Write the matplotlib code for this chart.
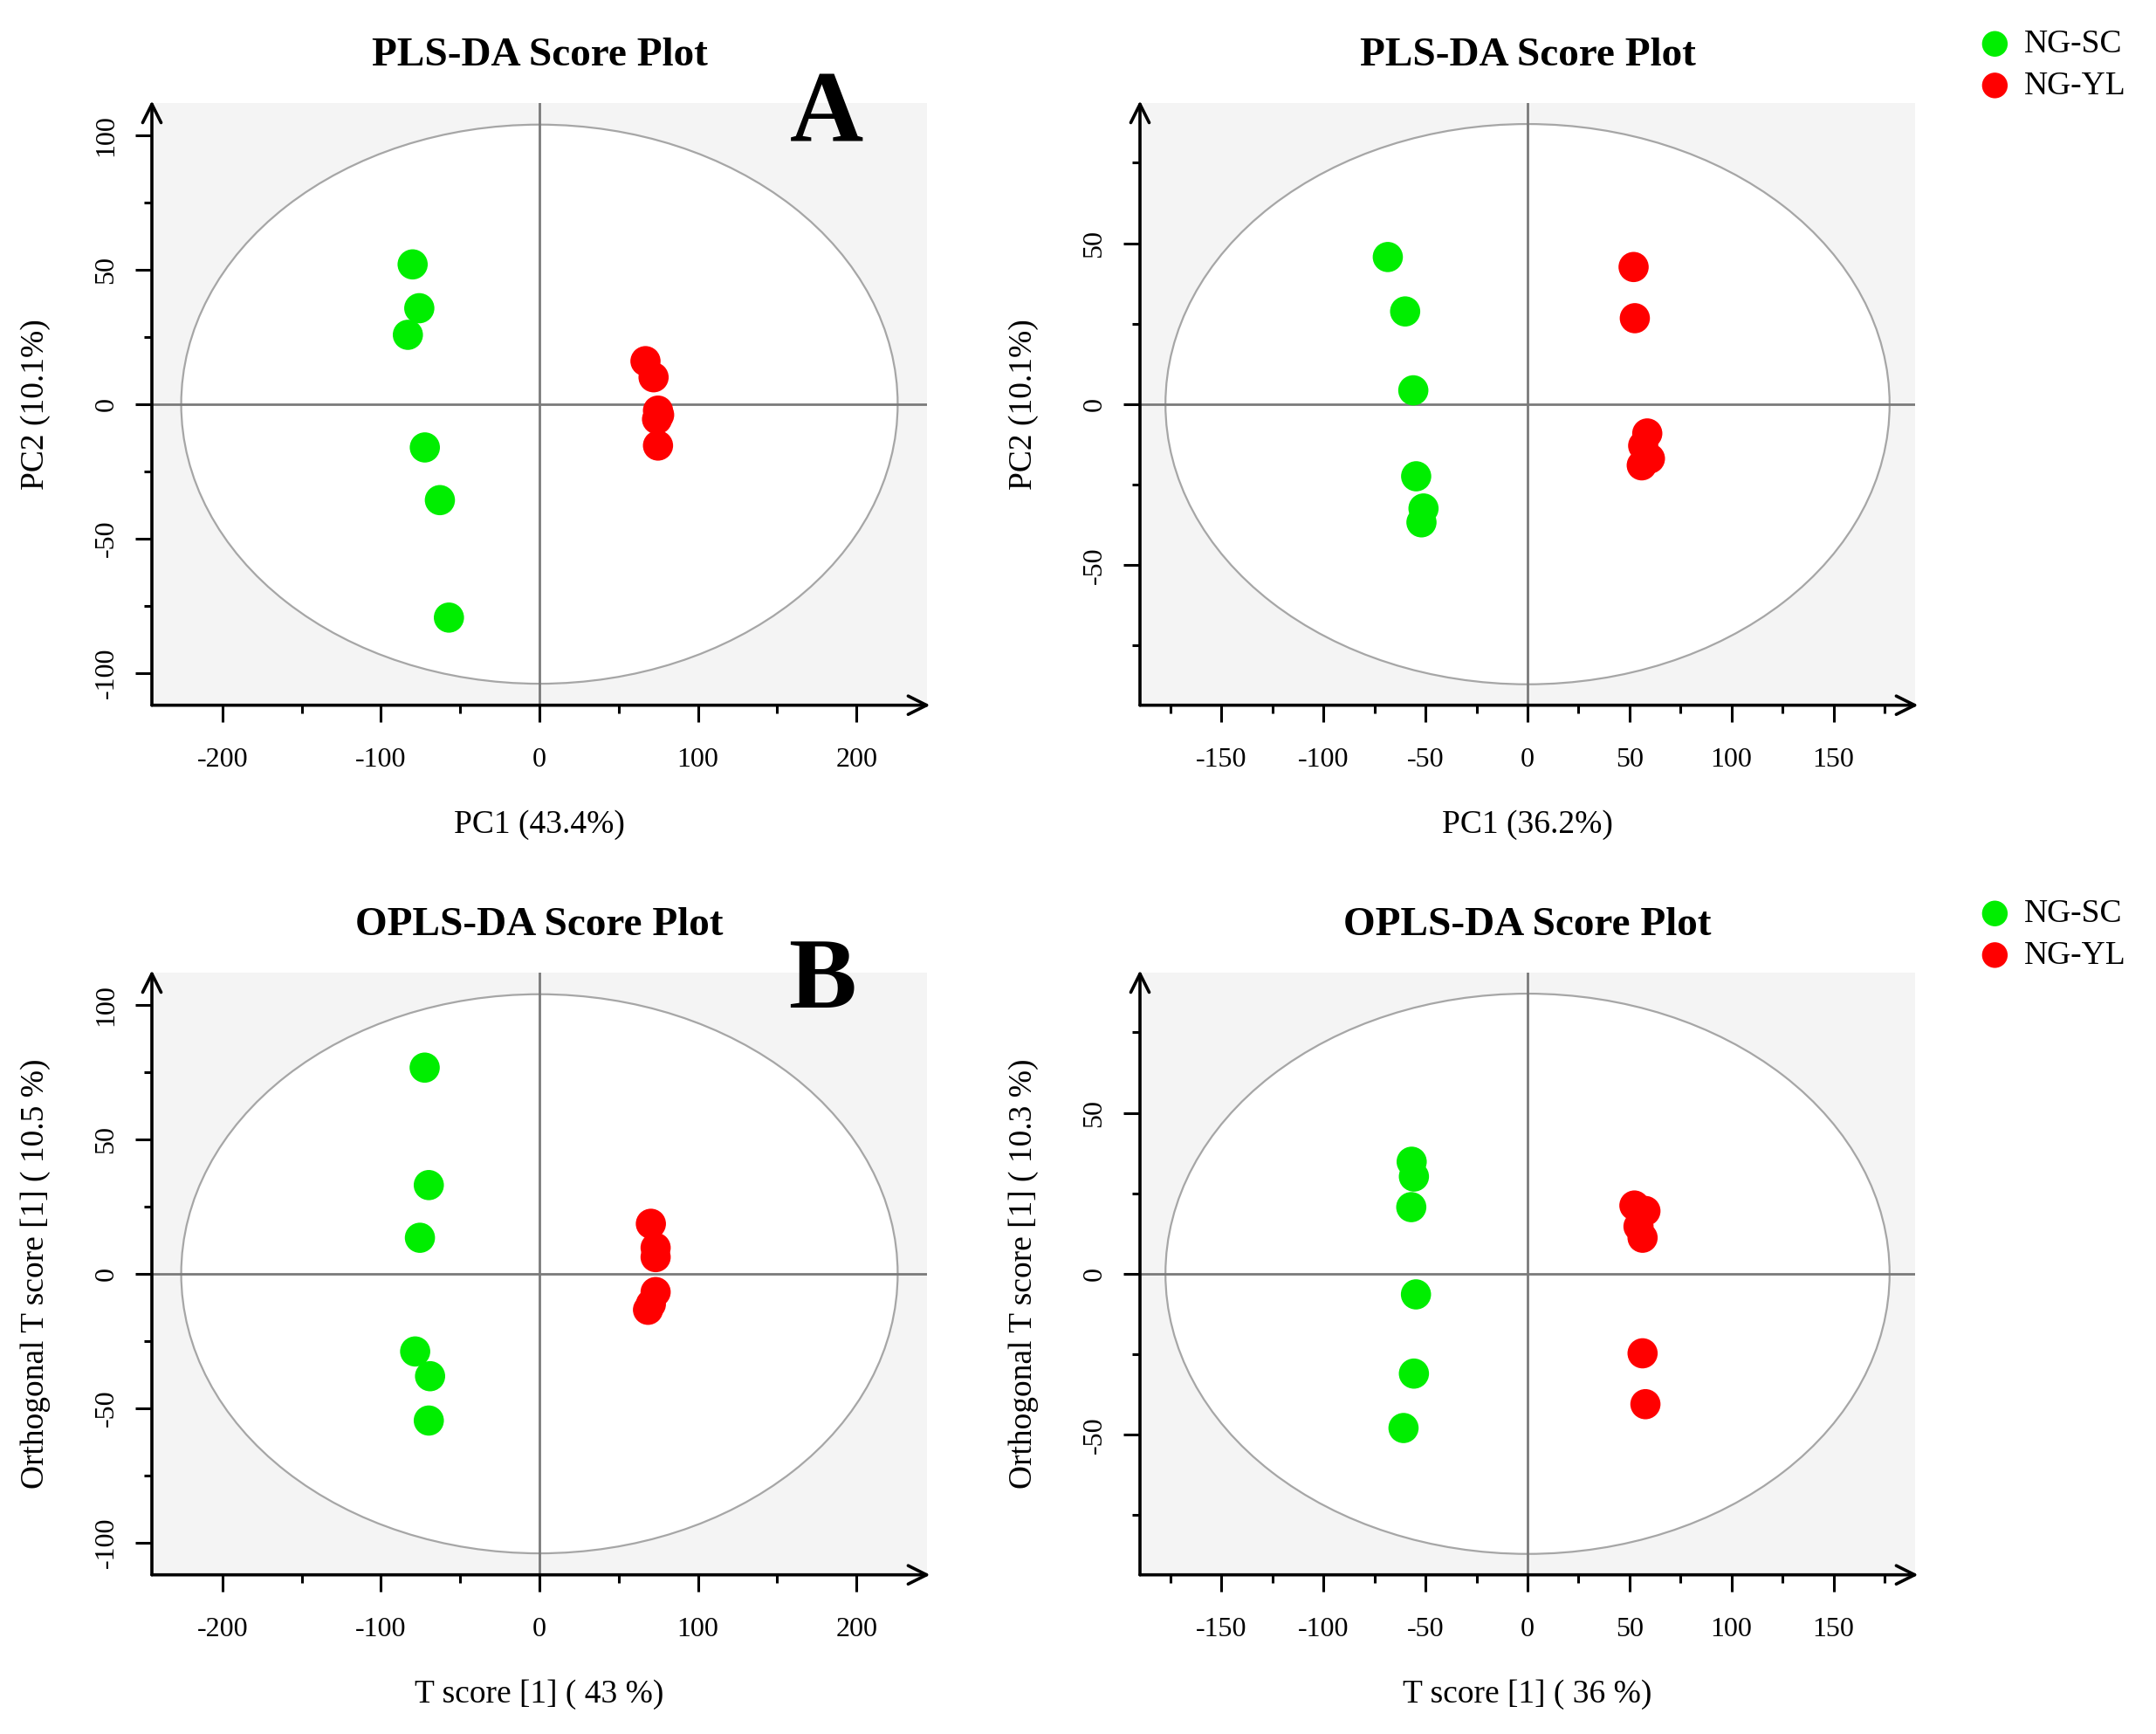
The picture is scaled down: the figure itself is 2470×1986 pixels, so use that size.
import matplotlib
matplotlib.use('Agg')
import matplotlib.pyplot as plt
from matplotlib.patches import Ellipse
from matplotlib.ticker import MultipleLocator

# group names and colours
groups = ['NG-SC', 'NG-YL']
group_colors = ['#00ee00', '#ff0000']

# PLS-DA, first comparison (A left)
pls1_sc_x = [-80, -75.8, -83, -72.3, -62.8, -57.1]
pls1_sc_y = [52, 35.7, 25.8, -16.1, -35.7, -79.4]
pls1_yl_x = [66.9, 72, 74.8, 74.2, 75.5, 74.8]
pls1_yl_y = [16, 10, -2.4, -5.6, -4, -15.4]

# PLS-DA, second comparison (A right)
pls2_sc_x = [-68.5, -60, -56, -54.6, -51, -52]
pls2_sc_y = [45.7, 28.8, 4.3, -22.4, -32.4, -36.7]
pls2_yl_x = [52, 52.6, 58.7, 56.7, 60, 56]
pls2_yl_y = [42.6, 26.7, -9.1, -12.9, -16.9, -19]

# OPLS-DA, first comparison (B left)
opls1_sc_x = [-72.4, -69.8, -75.4, -78.4, -69, -69.8]
opls1_sc_y = [76.7, 33, 13.4, -28.9, -38.1, -54.6]
opls1_yl_x = [70.3, 73.3, 73.3, 73.3, 70.3, 68.5]
opls1_yl_y = [18.6, 9.7, 6.2, -6.8, -11.3, -13.4]

# OPLS-DA, second comparison (B right)
opls2_sc_x = [-56.8, -55.7, -57, -54.7, -55.7, -60.8]
opls2_sc_y = [34.8, 30.2, 20.7, -6.4, -31, -47.9]
opls2_yl_x = [52.4, 57.8, 54.4, 56.4, 56.4, 57.8]
opls2_yl_y = [21.2, 19.5, 14.7, 11.2, -24.7, -40.5]

# Hotelling T2 ellipse half axes
ell_left = (226, 104)
ell_right = (177.5, 87)

titles = ['PLS-DA Score Plot', 'PLS-DA Score Plot', 'OPLS-DA Score Plot', 'OPLS-DA Score Plot']
xlabels = ['PC1 (43.4%)', 'PC1 (36.2%)', 'T score [1] ( 43 %)', 'T score [1] ( 36 %)']
ylabels = ['PC2 (10.1%)', 'PC2 (10.1%)', 'Orthogonal T score [1] ( 10.5 %)', 'Orthogonal T score [1] ( 10.3 %)']

plt.rcParams['font.family'] = ['Liberation Serif', 'DejaVu Serif']
plt.rcParams['axes.unicode_minus'] = False

fig = plt.figure(figsize=(24.7, 19.86), dpi=100)

W, H = 2470.0, 1986.0
aw, ah = 888 / W, 689.6 / H
positions = [
    (174 / W, (H - 807.7) / H),
    (1306 / W, (H - 807.7) / H),
    (174 / W, (H - 1803.7) / H),
    (1306 / W, (H - 1803.7) / H),
]

panels = [
    (pls1_sc_x, pls1_sc_y, pls1_yl_x, pls1_yl_y, ell_left, 244.5, 112, 100, 50, 50, 25),
    (pls2_sc_x, pls2_sc_y, pls2_yl_x, pls2_yl_y, ell_right, 190, 93.5, 50, 25, 50, 25),
    (opls1_sc_x, opls1_sc_y, opls1_yl_x, opls1_yl_y, ell_left, 244.5, 112, 100, 50, 50, 25),
    (opls2_sc_x, opls2_sc_y, opls2_yl_x, opls2_yl_y, ell_right, 190, 93.5, 50, 25, 50, 25),
]

axes = []
for i, p in enumerate(panels):
    sx, sy, rx, ry, ell, xl, yl, xmaj, xmin, ymaj, ymin = p
    ax = fig.add_axes([positions[i][0], positions[i][1], aw, ah])
    ax.set_facecolor('#f4f4f4')

    ax.add_patch(Ellipse((0, 0), 2 * ell[0], 2 * ell[1], facecolor='white',
                         edgecolor='#a6a6a6', lw=1.6, zorder=1))
    ax.axhline(0, color='#7a7a7a', lw=2, zorder=2)
    ax.axvline(0, color='#7a7a7a', lw=2, zorder=2)

    ax.scatter(sx, sy, s=620, color=group_colors[0], edgecolors='none', zorder=3, label=groups[0])
    ax.scatter(rx, ry, s=620, color=group_colors[1], edgecolors='none', zorder=3, label=groups[1])

    for s in ['top', 'right', 'left', 'bottom']:
        ax.spines[s].set_visible(False)
    # axis lines with open arrow heads
    ax.annotate('', xy=(0, 1.004), xytext=(0, 0), xycoords='axes fraction',
                arrowprops=dict(arrowstyle='->', lw=2.6, color='black', mutation_scale=38,
                                shrinkA=0, shrinkB=0), annotation_clip=False)
    ax.annotate('', xy=(1.004, 0), xytext=(0, 0), xycoords='axes fraction',
                arrowprops=dict(arrowstyle='->', lw=2.6, color='black', mutation_scale=38,
                                shrinkA=0, shrinkB=0), annotation_clip=False)

    ax.xaxis.set_major_locator(MultipleLocator(xmaj))
    ax.xaxis.set_minor_locator(MultipleLocator(xmin))
    ax.yaxis.set_major_locator(MultipleLocator(ymaj))
    ax.yaxis.set_minor_locator(MultipleLocator(ymin))
    ax.set_xlim(-xl, xl)
    ax.set_ylim(-yl, yl)
    ax.tick_params(which='major', length=14, width=2.2, color='black')
    ax.tick_params(which='minor', length=6.5, width=2.2, color='black')
    ax.tick_params(axis='x', which='major', labelsize=23, pad=21)
    ax.tick_params(axis='y', which='major', labelsize=23, pad=13, labelrotation=90)
    for lab in ax.get_yticklabels():
        lab.set_va('center')

    ax.text(0.5, 1.078, titles[i], transform=ax.transAxes, ha='center', va='center',
            fontsize=34, fontweight='bold')
    ax.text(0.5, -0.199, xlabels[i], transform=ax.transAxes, ha='center', va='center',
            fontsize=27)
    ax.text(-0.15, 0.5, ylabels[i], transform=ax.transAxes, ha='center', va='center',
            fontsize=27, rotation=90)
    axes.append(ax)

for ax in [axes[1], axes[3]]:
    ax.legend(loc='center left', bbox_to_anchor=(1.086, 1.063), frameon=False,
              fontsize=27, markerscale=0.85, handlelength=0.8, handletextpad=0.5,
              labelspacing=0.35, borderpad=0, borderaxespad=0)

fig.text(947 / W, 1 - 134 / H, 'A', fontsize=84, fontweight='bold', ha='center', va='center')
fig.text(942 / W, 1 - 1126 / H, 'B', fontsize=84, fontweight='bold', ha='center', va='center')

fig.savefig('out.png', dpi=100, facecolor='white')
